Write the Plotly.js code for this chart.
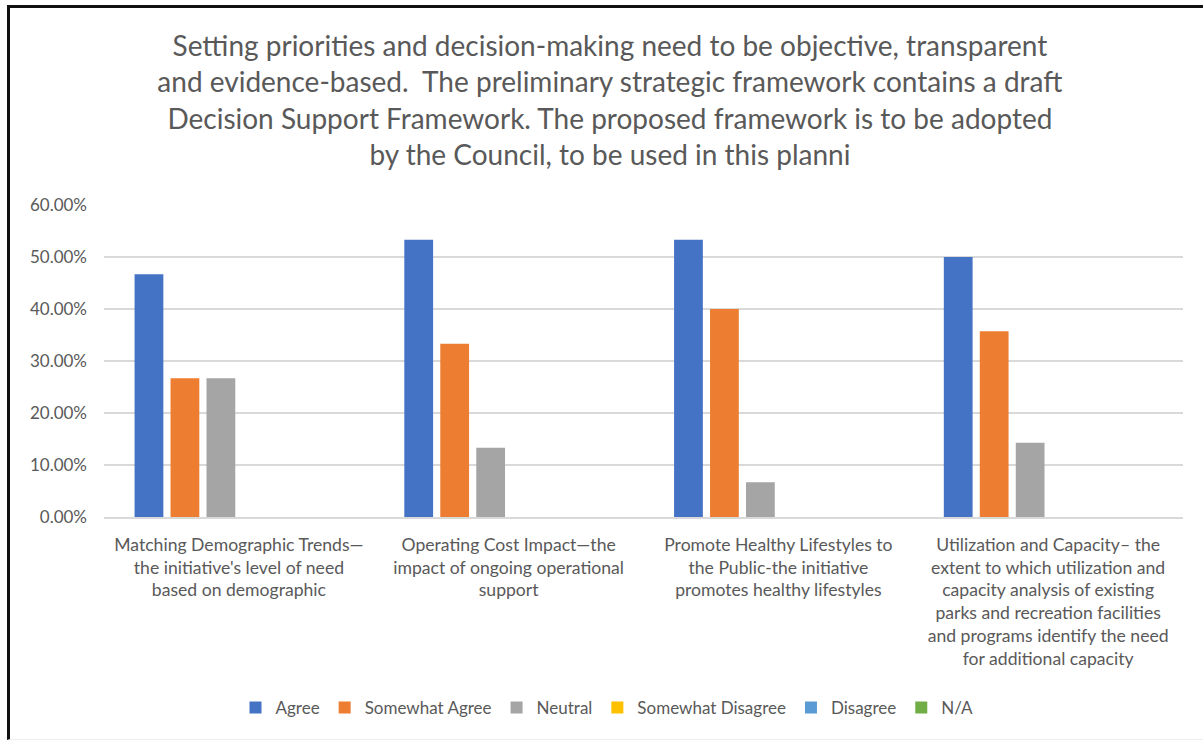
<!DOCTYPE html>
<html>
<head>
<meta charset="utf-8">
<script src="https://cdn.plot.ly/plotly-3.0.1.min.js"></script>
<style>
  body { margin: 0; background: #fff; }
  #chart { position: absolute; left: 0; top: 0; width: 1203px; height: 740px; }
  #frame {
    position: absolute; left: 7px; top: 5px; right: 0; bottom: 0;
    border-left: 3px solid #111; border-top: 3px solid #111;
    border-bottom: 1px solid #eee;
    pointer-events: none;
  }
</style>
</head>
<body>
<div id="chart"></div>
<div id="frame"></div>
<script>
// question text, wrapped as in the picture
const title_lines = [
  "Setting priorities and decision-making need to be objective, transparent",
  "and evidence-based.  The preliminary strategic framework contains a draft",
  "Decision Support Framework. The proposed framework is to be adopted",
  "by the Council, to be used in this planni"
];

const categories = ["demographic", "operating", "healthy", "capacity"];

const category_labels = [
  "Matching Demographic Trends\u2014<br>the initiative's level of need<br>based on demographic",
  "Operating Cost Impact\u2014the<br>impact of ongoing operational<br>support",
  "Promote Healthy Lifestyles to<br>the Public-the initiative<br>promotes healthy lifestyles",
  "Utilization and Capacity\u2013 the<br>extent to which utilization and<br>capacity analysis of existing<br>parks and recreation facilities<br>and programs identify the need<br>for additional capacity"
];

const series_names = ["Agree", "Somewhat Agree", "Neutral", "Somewhat Disagree", "Disagree", "N/A"];
const series_colors = ["#4472C4", "#ED7D31", "#A5A5A5", "#FFC000", "#5B9BD5", "#70AD47"];

// shares of answers (0..1)
const agree             = [0.4667, 0.5333, 0.5333, 0.5000];
const somewhat_agree    = [0.2667, 0.3333, 0.4000, 0.3571];
const neutral           = [0.2667, 0.1333, 0.0667, 0.1429];
const somewhat_disagree = [0, 0, 0, 0];
const disagree          = [0, 0, 0, 0];
const not_applicable    = [0, 0, 0, 0];

const series_values = [agree, somewhat_agree, neutral, somewhat_disagree, disagree, not_applicable];

const text_color = "#595959";
const font_family = "Lato, 'Open Sans', sans-serif";

let data = series_names.map((name, i) => ({
  name: name,
  type: "bar",
  x: categories,
  y: series_values[i],
  marker: { color: series_colors[i], line: { width: 0 } },
  hovertemplate: "%{y:.2%}<extra>" + name + "</extra>"
}));

let layout = {
  width: 1203,
  height: 740,
  paper_bgcolor: "rgba(0,0,0,0)",
  plot_bgcolor: "#fff",
  font: { family: font_family, color: text_color, size: 17 },
  title: {
    text: title_lines.join("<br>"),
    font: { family: font_family, size: 28, color: text_color },
    xref: "container",
    x: 0.507,
    xanchor: "center",
    yref: "container",
    y: 1 - 56 / 740,
    yanchor: "top"
  },
  margin: { l: 104, r: 20, t: 205, b: 223, pad: 0 },
  barmode: "group",
  bargap: 0.2,
  bargroupgap: 0.2,
  xaxis: {
    type: "category",
    tickvals: categories,
    ticktext: category_labels,
    showgrid: false,
    showline: true,
    linecolor: "#d9d9d9",
    linewidth: 1.5,
    ticks: "",
    ticklabelstandoff: 11,
    tickfont: { size: 17.6, color: text_color }
  },
  yaxis: {
    range: [0, 0.6],
    dtick: 0.1,
    tick0: 0,
    tickformat: ".2%",
    showgrid: true,
    gridcolor: "#d9d9d9",
    gridwidth: 1.5,
    zeroline: false,
    showline: false,
    ticks: "",
    ticklabelstandoff: 16,
    tickfont: { size: 17, color: text_color }
  },
  showlegend: true,
  legend: {
    orientation: "h",
    xref: "container",
    x: 607 / 1203,
    xanchor: "center",
    yref: "container",
    y: 1 - 708 / 740,
    yanchor: "middle",
    font: { size: 17, color: text_color },
    traceorder: "normal"
  }
};

Plotly.newPlot("chart", data, layout, { displayModeBar: false, staticPlot: true });
</script>
</body>
</html>
